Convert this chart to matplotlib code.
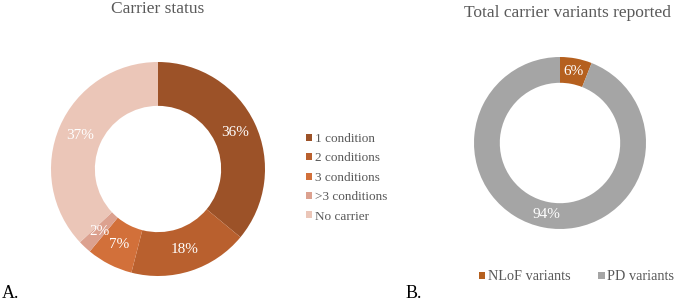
import matplotlib.pyplot as plt
from matplotlib.patches import Patch

plt.rcParams['font.family'] = ['Liberation Serif', 'DejaVu Serif']

# data
carrier_labels = ['1 condition', '2 conditions', '3 conditions', '>3 conditions', 'No carrier']
carrier_pct = [36, 18, 7, 2, 37]
carrier_colors = ['#9c5228', '#b9602e', '#d2703a', '#dca18f', '#ebc6b8']

variant_labels = ['NLoF variants', 'PD variants']
variant_pct = [6, 94]
variant_colors = ['#b5601f', '#a5a5a5']

W, H = 676, 301
fig = plt.figure(figsize=(W / 100, H / 100), dpi=100)
grey = '#595959'


def px_axes(cx, cy, r):
    return fig.add_axes([(cx - r) / W, (H - cy - r) / H, 2 * r / W, 2 * r / H])


# panel A
axA = px_axes(158, 169, 107)
axA.pie(carrier_pct, colors=carrier_colors, startangle=90, counterclock=False,
        radius=1, wedgeprops=dict(width=0.41, edgecolor='none'),
        labels=[f'{v}%' for v in carrier_pct], labeldistance=0.795,
        textprops=dict(color='white', fontsize=11, ha='center', va='center'))
axA.set_xlim(-1, 1)
axA.set_ylim(-1, 1)
axA.set_aspect('equal')
axA.axis('off')
fig.text(158 / W, 1 - 9 / H, 'Carrier status', ha='center', va='center',
         fontsize=12.5, color=grey)

handlesA = [Patch(facecolor=c, edgecolor='none') for c in carrier_colors]
fig.legend(handlesA, carrier_labels, loc='upper left',
           bbox_to_anchor=(306 / W, 1 - 133 / H), frameon=False, borderpad=0,
           borderaxespad=0, fontsize=9.5, labelcolor=grey, handlelength=0.45,
           handleheight=0.45, handletextpad=0.2, labelspacing=0.56)

# panel B
axB = px_axes(560, 143, 86)
axB.pie(variant_pct, colors=variant_colors, startangle=90, counterclock=False,
        radius=1, wedgeprops=dict(width=0.3, edgecolor='none'),
        labels=[f'{v}%' for v in variant_pct], labeldistance=0.85,
        textprops=dict(color='white', fontsize=11, ha='center', va='center'))
axB.set_xlim(-1, 1)
axB.set_ylim(-1, 1)
axB.set_aspect('equal')
axB.axis('off')
fig.text(567 / W, 1 - 13 / H, 'Total carrier variants reported', ha='center',
         va='center', fontsize=12.5, color=grey)

handlesB = [Patch(facecolor=c, edgecolor='none') for c in variant_colors]
fig.legend(handlesB, variant_labels, loc='center left', ncol=2,
           bbox_to_anchor=(479 / W, 1 - 277 / H), frameon=False, borderpad=0,
           borderaxespad=0, fontsize=10.3, labelcolor=grey, handlelength=0.45,
           handleheight=0.45, handletextpad=0.2, columnspacing=1.9)

fig.text(2 / W, 1 - 293 / H, 'A.', ha='left', va='center', fontsize=13)
fig.text(406 / W, 1 - 293 / H, 'B.', ha='left', va='center', fontsize=13)

fig.savefig('out.png', dpi=100)
